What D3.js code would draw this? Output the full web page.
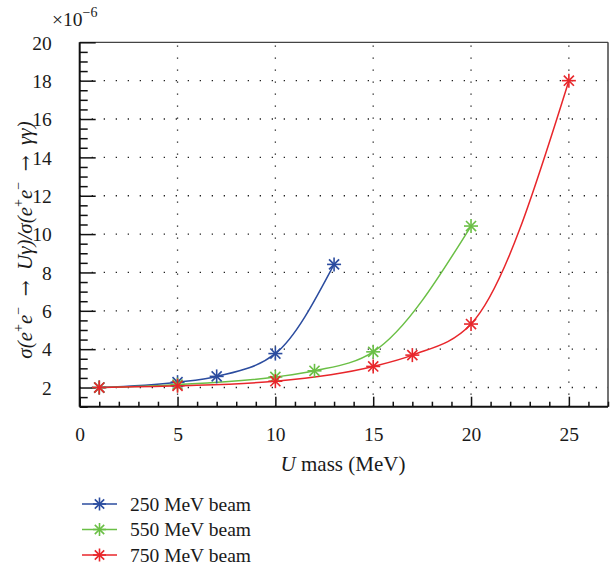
<!DOCTYPE html>
<html><head><meta charset="utf-8">
<script src="https://cdn.jsdelivr.net/npm/d3@7"></script>
<style>body{margin:0;background:#fff}svg{display:block}text{font-family:"Liberation Serif","DejaVu Serif",serif;fill:#1a1a1a}</style>
</head><body><svg id="c" width="612" height="569"></svg>
<script>
const seriesNames = ["250 MeV beam", "550 MeV beam", "750 MeV beam"];
const seriesColors = ["#2b4c9f", "#6abf45", "#e8262b"];
const x250 = [1, 5, 7, 10, 13];
const y250 = [2.0, 2.28, 2.58, 3.77, 8.42];
const x550 = [1, 5, 10, 12, 15, 20];
const y550 = [2.0, 2.15, 2.55, 2.87, 3.86, 10.42];
const x750 = [1, 5, 10, 15, 17, 20, 25];
const y750 = [2.0, 2.09, 2.33, 3.1, 3.69, 5.31, 18.0];
const xTicks = [0, 5, 10, 15, 20, 25];
const yTicks = [2, 4, 6, 8, 10, 12, 14, 16, 18, 20];

const series = [[x250, y250], [x550, y550], [x750, y750]].map((p, i) => ({
  name: seriesNames[i], color: seriesColors[i],
  pts: p[0].map((x, j) => ({x, y: p[1][j]}))
}));

const L = 79.7, R = 608, T = 42.3, B = 406.7;
const svg = d3.select("#c");
const x = d3.scaleLinear().domain([0, 27]).range([L, R]);
const y = d3.scaleLinear().domain([1, 20]).range([B, T]);

// grid
const grid = svg.append("g").attr("stroke", "#222").attr("stroke-width", 1.3).attr("stroke-dasharray", "1.3,10.7");
grid.selectAll(".gx").data(xTicks.filter(d => d > 0)).join("line")
  .attr("x1", d => x(d)).attr("x2", d => x(d)).attr("y1", B).attr("y2", T);
grid.selectAll(".gy").data(yTicks.filter(d => d < 20)).join("line")
  .attr("y1", d => y(d)).attr("y2", d => y(d)).attr("x1", L).attr("x2", R);

// frame
svg.append("line").attr("x1", L).attr("x2", R).attr("y1", T).attr("y2", T).attr("stroke", "#444").attr("stroke-width", 1.3);
svg.append("line").attr("x1", R).attr("x2", R).attr("y1", T).attr("y2", B).attr("stroke", "#444").attr("stroke-width", 1.5);

// axes
const xMinor = d3.range(0, 28, 1).filter(d => d % 5 !== 0);
const yMinor = d3.range(1, 20.01, 0.5).filter(d => d % 2 !== 0);
const ax = svg.append("g").attr("transform", `translate(0,${B})`)
  .call(d3.axisBottom(x).tickValues(xTicks).tickSize(-10).tickPadding(20).tickFormat(d3.format("d")));
const axm = svg.append("g").attr("transform", `translate(0,${B})`)
  .call(d3.axisBottom(x).tickValues(xMinor).tickSize(-5).tickFormat(""));
const ay = svg.append("g").attr("transform", `translate(${L},0)`)
  .call(d3.axisLeft(y).tickValues(yTicks).tickSize(-16).tickPadding(28).tickFormat(d3.format("d")));
const aym = svg.append("g").attr("transform", `translate(${L},0)`)
  .call(d3.axisLeft(y).tickValues(yMinor).tickSize(-8).tickFormat(""));
[ax, axm, ay, aym].forEach(g => {
  g.select(".domain").remove();
  g.selectAll("line").attr("stroke", "#111").attr("stroke-width", 1.5);
  g.selectAll("text").attr("font-size", 19.5).attr("fill", "#1a1a1a").attr("font-family", '"Liberation Serif",serif');
});
ay.selectAll("text").attr("dy", "0.35em");
svg.append("line").attr("x1", L).attr("x2", L).attr("y1", T).attr("y2", B).attr("stroke", "#111").attr("stroke-width", 2);
svg.append("line").attr("x1", L).attr("x2", R).attr("y1", B).attr("y2", B).attr("stroke", "#111").attr("stroke-width", 2);

// multiplier
const mt = svg.append("text").attr("x", 52).attr("y", 26).attr("font-size", 19.5);
mt.append("tspan").text("×10");
mt.append("tspan").attr("dy", -9).attr("font-size", 14).text("−6");

// axis titles
const xt = svg.append("text").attr("x", 343).attr("y", 471).attr("text-anchor", "middle").attr("font-size", 21);
xt.append("tspan").attr("font-style", "italic").text("U");
xt.append("tspan").text(" mass (MeV)");

const NB = "\u00a0";
const yt = svg.append("text").attr("transform", "translate(32,240) rotate(-90)").attr("text-anchor", "middle").attr("font-size", 21).attr("font-style", "italic");
const parts = [["σ(e", 0], ["+", 1], ["e", 0], ["−", 1], [NB + NB, 0], ["→", 2], [NB + NB + "Uγ)/σ(e", 0], ["+", 1], ["e", 0], ["−", 1], [NB + NB, 0], ["→", 2], [NB + NB + "γγ)", 0]];
let up = false;
parts.forEach(([t, s]) => {
  const sp = yt.append("tspan").text(t);
  if (s === 1 && !up) { sp.attr("dy", -9).attr("font-size", 14).attr("font-style", "normal"); up = true; }
  else if (s === 1) { sp.attr("font-size", 14).attr("font-style", "normal"); }
  else {
    if (up) { sp.attr("dy", 9); up = false; }
    if (s === 2) sp.attr("font-style", "normal").attr("font-family", '"DejaVu Serif",serif').attr("font-size", 19);
  }
});

// curves and markers
const line = d3.line().x(d => x(d.x)).y(d => y(d.y)).curve(d3.curveMonotoneX);
function star(g, cx, cy, color, r) {
  const a = [[0, r], [r, 0], [r * .72, r * .72], [r * .72, -r * .72]];
  a.forEach(([dx, dy]) => g.append("line").attr("x1", cx - dx).attr("x2", cx + dx).attr("y1", cy - dy).attr("y2", cy + dy)
    .attr("stroke", color).attr("stroke-width", 1.6));
}
series.forEach(s => {
  svg.append("path").attr("d", line(s.pts)).attr("fill", "none").attr("stroke", s.color).attr("stroke-width", 1.5);
});
series.forEach(s => {
  const g = svg.append("g");
  s.pts.forEach(p => star(g, x(p.x), y(p.y), s.color, 7));
});

// legend
series.forEach((s, i) => {
  const ly = 504 + i * 25.5;
  const g = svg.append("g");
  g.append("line").attr("x1", 82).attr("x2", 117).attr("y1", ly).attr("y2", ly).attr("stroke", s.color).attr("stroke-width", 1.5);
  star(g, 99.5, ly, s.color, 6.5);
  g.append("text").attr("x", 130).attr("y", ly).attr("dy", "0.35em").attr("font-size", 19.5).text(s.name);
});
</script></body></html>
